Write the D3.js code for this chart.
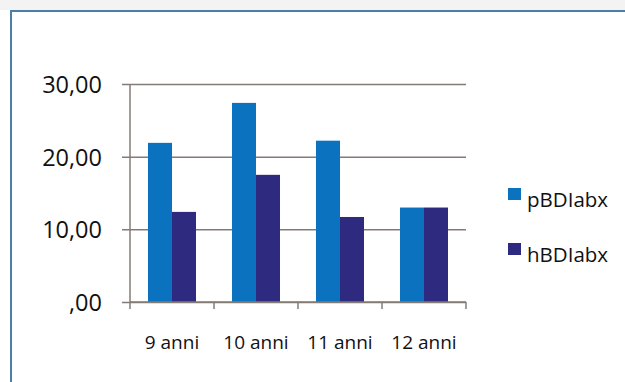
<!DOCTYPE html>
<html>
<head>
<meta charset="utf-8">
<script src="https://cdn.jsdelivr.net/npm/d3@7"></script>
<style>
  html, body { margin: 0; padding: 0; background: #ffffff; }
  svg { display: block; }
  text { font-family: "Open Sans", Lato, sans-serif; fill: #111111; }
</style>
</head>
<body>
<svg id="chart" width="625" height="382"></svg>
<script>
// Age groups and the two series
const categories = ["9 anni", "10 anni", "11 anni", "12 anni"];
const seriesNames = ["pBDIabx", "hBDIabx"];
const pBDIabx = [21.9, 27.4, 22.2, 13.0];
const hBDIabx = [12.4, 17.5, 11.7, 13.0];
const yTicks = [0, 10, 20, 30];
const colors = ["#0b72c0", "#2d2a7f"];

const seriesValues = [pBDIabx, hBDIabx];
const W = 625, H = 382;
const svg = d3.select("#chart");
const font = "'Open Sans', Lato, sans-serif";

// Panel frame
svg.append("rect").attr("x", 0).attr("y", 0).attr("width", W).attr("height", 10).attr("fill", "#f3f3f3");
svg.append("path")
  .attr("d", `M11,${H} L11,11 L${W},11`)
  .attr("fill", "none").attr("stroke", "#4a7fa9").attr("stroke-width", 2);

const plot = { left: 130, right: 466, top: 84, bottom: 302 };

const x = d3.scaleBand().domain(categories).range([plot.left, plot.right]).paddingInner(0).paddingOuter(0);
const y = d3.scaleLinear().domain([0, 30]).range([plot.bottom, plot.top]);
const inner = d3.scaleBand().domain(seriesNames).range([0, x.bandwidth()]).paddingOuter(0.75).paddingInner(0);

const axisColor = "#857b76";

// Horizontal gridlines with outward tick marks
const yAxis = d3.axisLeft(y).tickValues(yTicks)
  .tickSize(-(plot.right - plot.left))
  .tickFormat(d => d3.format(".2f")(d).replace(".", ",").replace(/^0,/, ","));
const gy = svg.append("g").attr("transform", `translate(${plot.left},0)`).call(yAxis);
gy.select(".domain").remove();
gy.selectAll(".tick line").attr("stroke", axisColor).attr("stroke-width", 1.5).attr("x1", -8);
gy.selectAll(".tick text")
  .attr("x", -28).attr("dy", "0.36em")
  .style("font-size", "23.5px").style("font-family", font).attr("fill", "#111111");

// Vertical axis line
svg.append("line").attr("x1", plot.left).attr("x2", plot.left)
  .attr("y1", plot.top).attr("y2", plot.bottom)
  .attr("stroke", axisColor).attr("stroke-width", 1.5);

// Bars
categories.forEach((c, i) => {
  seriesNames.forEach((s, j) => {
    const v = seriesValues[j][i];
    svg.append("rect")
      .attr("x", x(c) + inner(s))
      .attr("y", y(v))
      .attr("width", inner.bandwidth())
      .attr("height", y(0) - y(v))
      .attr("fill", colors[j]);
  });
});

// Category axis
const xAxis = d3.axisBottom(x).tickSize(0).tickPadding(0);
const gx = svg.append("g").attr("transform", `translate(0,${plot.bottom})`).call(xAxis);
gx.select(".domain").remove();
gx.selectAll(".tick text")
  .attr("y", 34)
  .style("font-size", "19px").style("font-family", font).attr("fill", "#111111");
svg.append("line").attr("x1", plot.left).attr("x2", plot.right)
  .attr("y1", plot.bottom).attr("y2", plot.bottom)
  .attr("stroke", axisColor).attr("stroke-width", 1.5);
const boundaries = categories.map(c => x(c)).concat([plot.right]);
svg.selectAll(".xtick").data(boundaries).enter().append("line")
  .attr("x1", d => d).attr("x2", d => d)
  .attr("y1", plot.bottom).attr("y2", plot.bottom + 7)
  .attr("stroke", axisColor).attr("stroke-width", 1.5);

// Legend
const legend = svg.append("g").attr("transform", "translate(508,188)");
seriesNames.forEach((s, j) => {
  const g = legend.append("g").attr("transform", `translate(0,${j * 55})`);
  g.append("rect").attr("width", 13).attr("height", 12).attr("fill", colors[j]);
  g.append("text").attr("x", 19).attr("y", 19).text(s)
    .style("font-size", "20.5px").style("font-family", font);
});
</script>
</body>
</html>
